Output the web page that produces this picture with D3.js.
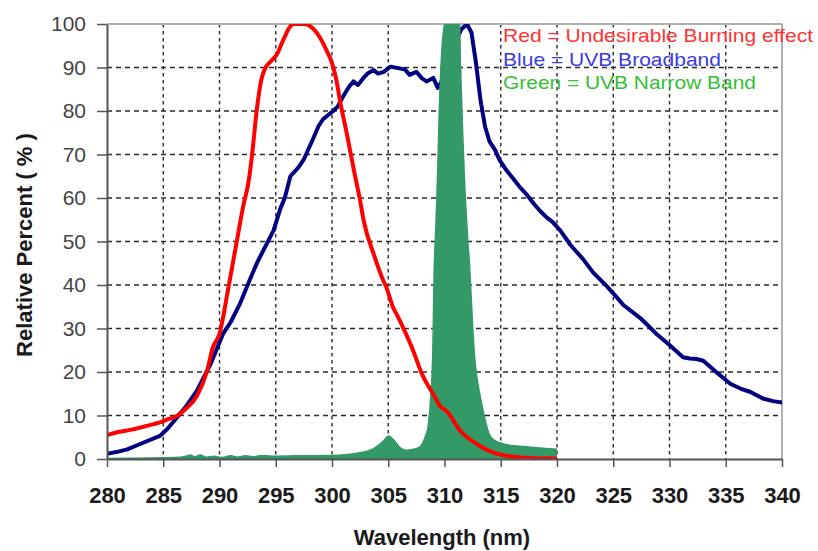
<!DOCTYPE html>
<html>
<head>
<meta charset="utf-8">
<script src="https://cdn.jsdelivr.net/npm/d3@7"></script>
<style>
  html, body { margin: 0; padding: 0; background: #fff; }
  svg { display: block; font-family: "Liberation Sans", Arial, sans-serif; }
</style>
</head>
<body>
<svg id="chart" width="818" height="551"></svg>
<script>
// Erythema (burning) action spectrum, wavelength in nm and relative percent
const redWavelengths = [280, 281, 282.3, 283.5, 284.7, 285.5, 286.2, 287, 288, 288.9, 289.4, 290, 290.8, 291.5, 292.1, 292.6, 292.9, 293.3, 293.7, 294.0, 294.6, 295.1, 295.7, 296.3, 296.6, 297.5, 298.0, 298.9, 299.5, 300.0, 300.4, 300.7, 301.3, 302.0, 302.5, 302.8, 303.8, 304.4, 304.9, 305.4, 305.8, 306.3, 307.2, 308.0, 309.0, 309.6, 310.2, 311.4, 312.9, 314.3, 316.1, 318, 320];
const redValues      = [5.5, 6.2, 6.8, 7.6, 8.4, 9.2, 9.9, 11.5, 14.5, 20.3, 25.6, 28.8, 39.5, 49.5, 58, 64, 70, 80, 87, 89.5, 91.5, 93, 96.5, 99.5, 100, 100, 99.6, 97, 94, 91, 87, 82.5, 75, 65.7, 59.4, 55, 46.4, 42, 39, 35, 33, 30.3, 25, 19.5, 14.9, 12.2, 11, 6.5, 3.4, 1.5, 0.5, 0.2, 0.1];

// UVB broadband lamp spectrum
const blueWavelengths = [280, 281, 281.8, 283, 284.7, 285.4, 286.2, 287, 288, 289.2, 290.3, 291, 291.8, 292.5, 293.3, 294, 294.8, 295.4, 295.8, 296.3, 297, 297.5, 298.3, 298.8, 299.2, 300.1, 300.5, 301.0, 301.5, 301.9, 302.3, 302.8, 303.2, 303.7, 304.1, 304.6, 305.2, 306.0, 306.5, 306.9, 307.5, 308.0, 308.4, 309.0, 309.4, 310, 311, 311.5, 312.0, 312.4, 312.8, 313.2, 313.6, 314.0, 314.5, 314.9, 315.5, 316.1, 316.7, 317.3, 317.9, 318.5, 319.1, 319.6, 320.3, 321.2, 322.3, 323.2, 324.4, 325.2, 325.9, 327.4, 328.2, 328.9, 330.0, 331.2, 331.8, 332.4, 333.0, 334.2, 335.4, 336.3, 337.2, 338.3, 339.2, 340];
const blueValues      = [1.2, 1.7, 2.2, 3.5, 5.3, 7, 9.5, 12, 15.7, 21.8, 28.7, 31.5, 35.6, 40, 44.9, 48.5, 52.5, 57.5, 60, 65, 67, 68.9, 73.5, 76.5, 78.1, 80, 81, 83.4, 85.5, 86.8, 86, 87.6, 88.7, 89.4, 88.6, 89, 90.2, 89.8, 89.5, 88.3, 89, 87.5, 86.8, 87.6, 85.3, 88, 96, 98.8, 100, 98, 91, 82.5, 76.5, 73, 71, 68.7, 66.4, 64.5, 62.5, 60.8, 58.8, 57, 55.5, 54.5, 52.5, 49.2, 46, 42.9, 39.8, 37.5, 35.4, 32.4, 30.4, 28.6, 26.2, 23.4, 23.1, 23, 22.6, 19.9, 17.3, 16.2, 15.4, 13.9, 13.3, 13];

// UVB narrow band lamp spectrum
const greenWavelengths = [280, 284, 286, 287, 287.4, 287.8, 288.3, 288.8, 289.5, 290.2, 291, 291.6, 292.3, 293, 293.8, 295, 297, 300, 302.2, 303.7, 304.5, 305.0, 305.5, 306.0, 306.6, 307.2, 307.8, 308.2, 308.5, 308.7, 308.9, 309.0, 309.2, 309.3, 309.5, 309.7, 310.0, 311.4, 311.5, 311.8, 312.3, 312.7, 313.2, 313.6, 314.0, 314.5, 315.2, 316.1, 317.3, 318.5, 320];
const greenValues      = [0.3, 0.4, 0.5, 0.8, 1.1, 0.7, 1.1, 0.6, 0.8, 0.5, 0.9, 0.6, 0.9, 0.7, 1.0, 0.8, 0.9, 1.0, 1.5, 2.6, 4.2, 5.4, 4.6, 3, 2.2, 2.4, 3, 5, 8, 14, 25.6, 40.9, 56, 64, 82.5, 94, 100, 100, 90, 67, 44, 25, 15, 10, 6, 4.4, 3.7, 3.2, 3, 2.7, 2.4];

const xTicks = [280, 285, 290, 295, 300, 305, 310, 315, 320, 325, 330, 335, 340];
const yTicks = [0, 10, 20, 30, 40, 50, 60, 70, 80, 90, 100];

const legendLines = [
  { text: "Red = Undesirable Burning effect", color: "#ff3333" },
  { text: "Blue = UVB Broadband", color: "#3a3ae6" },
  { text: "Green = UVB Narrow Band", color: "#33c033" }
];

const svg = d3.select("#chart");
const plotLeft = 107, plotRight = 782, plotTop = 24, plotBottom = 459;

const x = d3.scaleLinear().domain([280, 340]).range([plotLeft, plotRight]);
const y = d3.scaleLinear().domain([0, 100]).range([plotBottom, plotTop]);

const pts = (xs, vs) => xs.map((w, i) => ({ w, v: vs[i] }));

// clip region for series
svg.append("defs").append("clipPath").attr("id", "plot-clip")
  .append("rect").attr("x", plotLeft).attr("y", plotTop)
  .attr("width", plotRight - plotLeft).attr("height", plotBottom - plotTop);

// gridlines
const grid = svg.append("g");
grid.selectAll("line.h").data(yTicks.filter(t => t > 0 && t < 100)).join("line")
  .attr("class", "h")
  .attr("x1", plotLeft).attr("x2", plotRight)
  .attr("y1", d => y(d)).attr("y2", d => y(d))
  .attr("stroke", "#2a2a2a").attr("stroke-width", 1.4).attr("stroke-dasharray", "5,4");
grid.selectAll("line.v").data(xTicks.filter(t => t > 280 && t < 340)).join("line")
  .attr("class", "v")
  .attr("x1", d => x(d)).attr("x2", d => x(d))
  .attr("y1", plotTop).attr("y2", plotBottom)
  .attr("stroke", "#2a2a2a").attr("stroke-width", 1.4).attr("stroke-dasharray", "3.5,3.5");

// frame top and right
svg.append("line").attr("x1", plotLeft).attr("x2", plotRight).attr("y1", plotTop).attr("y2", plotTop)
  .attr("stroke", "#b0b0b0").attr("stroke-width", 2);
svg.append("line").attr("x1", plotRight).attr("x2", plotRight).attr("y1", plotTop).attr("y2", plotBottom)
  .attr("stroke", "#b0b0b0").attr("stroke-width", 2);

const series = svg.append("g").attr("clip-path", "url(#plot-clip)");

// blue broadband line
series.append("path")
  .datum(pts(blueWavelengths, blueValues))
  .attr("fill", "none").attr("stroke", "#000080").attr("stroke-width", 4)
  .attr("stroke-linejoin", "round")
  .attr("d", d3.line().x(d => x(d.w)).y(d => y(d.v)));

// green narrow band area
series.append("path")
  .datum(pts(greenWavelengths, greenValues))
  .attr("fill", "#339966")
  .attr("d", d3.area().x(d => x(d.w)).y0(y(0)).y1(d => y(d.v)).curve(d3.curveMonotoneX));

// red burning line
series.append("path")
  .datum(pts(redWavelengths, redValues))
  .attr("fill", "none").attr("stroke", "#ff0000").attr("stroke-width", 4)
  .attr("stroke-linejoin", "round")
  .attr("d", d3.line().x(d => x(d.w)).y(d => y(d.v)).curve(d3.curveMonotoneX));

// y axis
const yAxis = svg.append("g").attr("transform", `translate(${plotLeft},0)`)
  .call(d3.axisLeft(y).tickValues(yTicks).tickSize(10).tickPadding(11).tickSizeOuter(0));
yAxis.select(".domain").attr("stroke", "#555").attr("stroke-width", 2);
yAxis.selectAll(".tick line").attr("stroke", "#555").attr("stroke-width", 1.5);
yAxis.selectAll(".tick text").attr("fill", "#444")
  .style("font-size", "21px").style("font-family", "'Liberation Sans', Arial, sans-serif");

// x axis
const xAxis = svg.append("g").attr("transform", `translate(0,${plotBottom})`)
  .call(d3.axisBottom(x).tickValues(xTicks).tickSize(8).tickPadding(20).tickSizeOuter(0));
xAxis.select(".domain").attr("stroke", "#555").attr("stroke-width", 2);
xAxis.selectAll(".tick line").attr("stroke", "#555").attr("stroke-width", 1.5);
xAxis.selectAll(".tick text").attr("fill", "#1a1a1a")
  .style("font-size", "22px").style("font-weight", "bold")
  .style("font-family", "'Liberation Sans', Arial, sans-serif");

// axis titles
svg.append("text")
  .attr("transform", "translate(32,245) rotate(-90)")
  .attr("text-anchor", "middle")
  .attr("fill", "#1a1a1a").style("font-size", "22px").style("font-weight", "bold")
  .text("Relative Percent ( % )");

svg.append("text")
  .attr("x", 442).attr("y", 545)
  .attr("text-anchor", "middle")
  .attr("fill", "#1a1a1a").style("font-size", "22px").style("font-weight", "bold")
  .text("Wavelength (nm)");

// legend text
const legendWidths = [310, 218, 253];
svg.append("g").selectAll("text").data(legendLines).join("text")
  .attr("x", 503).attr("y", (d, i) => 42 + i * 23.5)
  .attr("fill", d => d.color)
  .attr("textLength", (d, i) => legendWidths[i])
  .attr("lengthAdjust", "spacingAndGlyphs")
  .style("font-size", "19px")
  .text(d => d.text);
</script>
</body>
</html>
